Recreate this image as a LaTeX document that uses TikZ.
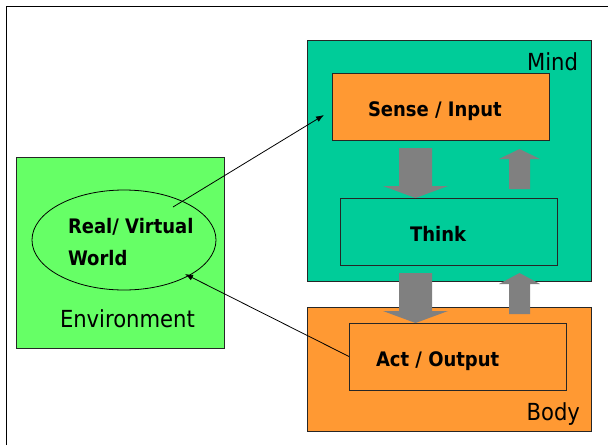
\documentclass[tikz,border=0pt]{standalone}
\usepackage{fontspec}
\setmainfont{DejaVu Sans Condensed}
\usetikzlibrary{arrows.meta,shapes.geometric}
\definecolor{mindc}{RGB}{0,204,153}
\definecolor{orangec}{RGB}{255,153,51}
\definecolor{envc}{RGB}{102,255,102}
\definecolor{grayc}{RGB}{128,128,128}
\tikzset{
  box/.style={draw=black!85, line width=0.8pt, rectangle, inner sep=0pt, outer sep=0pt, anchor=north west},
  lbl/.style={inner sep=0pt, outer sep=0pt, font=\fontsize{20}{24}\selectfont\bfseries, anchor=base west},
  tag/.style={inner sep=0pt, outer sep=0pt, font=\fontsize{23.5}{28}\selectfont},
  blockarrow/.style={fill=grayc, draw=none},
  thinarrow/.style={line width=0.8pt, -{Latex[length=8pt,width=6pt]}}
}
\begin{document}
\begin{tikzpicture}[x=1pt,y=-1pt]
\useasboundingbox (0,0) rectangle (608,445);
% outer frame
\draw[line width=1.3pt] (6.5,445) -- (6.5,6.5) -- (608,6.5);
% mind
\node[box, fill=mindc, minimum width=284, minimum height=241] (mind) at (307,40) {};
\node[tag, anchor=base east] (mindlbl) at (578,70) {Mind};
\node[box, fill=orangec, minimum width=217, minimum height=67] (sense) at (332,73) {};
\node[lbl] (senselbl) at (368,116.5) {Sense / Input};
\node[box, fill=mindc, minimum width=217, minimum height=67] (think) at (340,198) {};
\node[lbl] (thinklbl) at (410,241.5) {Think};
% body
\node[box, fill=orangec, minimum width=284, minimum height=124] (body) at (307,307) {};
\node[tag, anchor=base east] (bodylbl) at (580,420) {Body};
\node[box, fill=orangec, minimum width=217, minimum height=67] (act) at (349,323) {};
\node[lbl] (actlbl) at (376,366.5) {Act / Output};
% environment
\node[box, fill=envc, minimum width=208, minimum height=191] (env) at (16,157) {};
\node[draw=black, line width=0.8pt, ellipse, minimum width=184, minimum height=100, inner sep=0pt] (world) at (124,240) {};
\node[lbl] (worldlbl1) at (68,233) {Real/ Virtual};
\node[lbl] (worldlbl2) at (68,265) {World};
\node[tag, anchor=base west] (envlbl) at (60,327.5) {Environment};
% block arrows
\fill[blockarrow] (399,148) -- (432,148) -- (432,186) -- (448,186) -- (415.5,198) -- (383,186) -- (399,186) -- cycle;
\fill[blockarrow] (399,273) -- (432,273) -- (432,311) -- (448,311) -- (415.5,323) -- (383,311) -- (399,311) -- cycle;
\fill[blockarrow] (509,189) -- (530,189) -- (530,159) -- (540,159) -- (519.5,149) -- (499,159) -- (509,159) -- cycle;
\fill[blockarrow] (509,314) -- (530,314) -- (530,284) -- (540,284) -- (519.5,273) -- (499,284) -- (509,284) -- cycle;
% thin arrows
\coordinate (wstart) at (173,207);
\coordinate (sensetip) at (324,115);
\coordinate (wend) at (185,274);
\draw[thinarrow] (wstart) -- (sensetip);
\draw[thinarrow] (act.west) -- (wend);
\end{tikzpicture}
\end{document}
